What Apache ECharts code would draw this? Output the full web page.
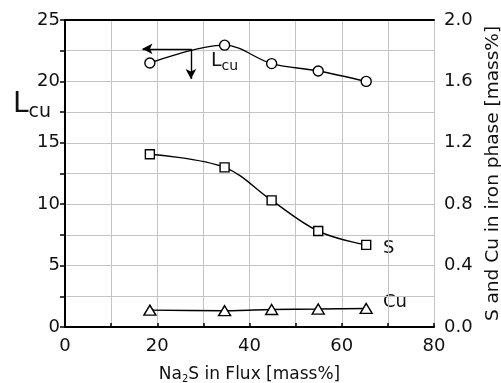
<!DOCTYPE html>
<html>
<head>
<meta charset="utf-8">
<script src="https://cdn.jsdelivr.net/npm/echarts@6/dist/echarts.min.js"></script>
<style>
  html, body { margin: 0; padding: 0; background: #fff; }
  #chart { width: 501px; height: 383px; }
</style>
</head>
<body>
<div id="chart"></div>
<script>
const na2s = [18.4, 34.6, 44.8, 54.9, 65.3];
const lcu = [21.5, 22.95, 21.45, 20.85, 20.0];
const sulfur = [1.125, 1.04, 0.825, 0.625, 0.535];
const copper = [0.11, 0.106, 0.114, 0.117, 0.121];

const font = "DejaVu Sans, sans-serif";
const pair = (xs, ys) => xs.map((x, i) => [x, ys[i]]);

const chart = echarts.init(document.getElementById("chart"));

const baseSeries = {
  type: "line",
  smooth: 0.35,
  symbolSize: 10,
  itemStyle: { color: "#fff", borderColor: "#000", borderWidth: 1.4 },
  lineStyle: { color: "#000", width: 1.4 },
  z: 5,
};

chart.setOption({
  animation: false,
  grid: { left: 65, right: 67, top: 20, bottom: 56, containLabel: false, outerBoundsMode: "none" },
  xAxis: [
    {
      type: "value",
      min: 0,
      max: 80,
      interval: 20,
      name: "{n|Na}{s|2}{n|S in Flux [mass%]}",
      nameLocation: "middle",
      nameGap: 39,
      nameTextStyle: {
        rich: {
          n: { fontFamily: font, fontSize: 17, color: "#111" },
          s: { fontFamily: font, fontSize: 10, color: "#111", verticalAlign: "bottom", padding: [8, 0, 0, 0] },
        },
      },
      axisLine: { onZero: false, lineStyle: { color: "#000", width: 2 } },
      axisTick: { inside: true, length: 4, lineStyle: { color: "#000", width: 1.5 } },
      minorTick: { show: true, splitNumber: 2, length: 4, lineStyle: { color: "#000", width: 1.5 } },
      axisLabel: { fontFamily: font, fontSize: 18, color: "#111", margin: 10 },
      splitLine: { show: true, lineStyle: { color: "#c4c4c4", width: 1 } },
      minorSplitLine: { show: true, lineStyle: { color: "#c4c4c4", width: 1 } },
    },
    {
      type: "value",
      position: "top",
      min: 0,
      max: 80,
      interval: 20,
      axisLine: { show: true, onZero: false, lineStyle: { color: "#000", width: 2 } },
      axisTick: { show: false },
      axisLabel: { show: false },
      splitLine: { show: false },
    },
  ],
  yAxis: [
    {
      type: "value",
      min: 0,
      max: 25,
      interval: 5,
      axisLine: { show: true, lineStyle: { color: "#000", width: 2 } },
      axisTick: { inside: false, length: 5, lineStyle: { color: "#000", width: 1.5 } },
      minorTick: { show: true, splitNumber: 2, length: 5, lineStyle: { color: "#000", width: 1.5 } },
      axisLabel: { fontFamily: font, fontSize: 18, color: "#111", margin: 5 },
      splitLine: { show: true, lineStyle: { color: "#c4c4c4", width: 1 } },
      minorSplitLine: { show: true, lineStyle: { color: "#c4c4c4", width: 1 } },
    },
    {
      type: "value",
      min: 0,
      max: 2.0,
      interval: 0.4,
      position: "right",
      name: "S and Cu in iron phase [mass%]",
      nameLocation: "middle",
      nameRotate: 90,
      nameGap: 47,
      nameTextStyle: { fontFamily: font, fontSize: 18.5, color: "#111" },
      axisLine: { show: true, lineStyle: { color: "#000", width: 2 } },
      axisTick: { inside: true, length: 4, lineStyle: { color: "#000", width: 1.5 } },
      minorTick: { show: true, splitNumber: 2, length: 4, lineStyle: { color: "#000", width: 1.5 } },
      axisLabel: { fontFamily: font, fontSize: 18, color: "#111", margin: 10, formatter: (v) => v.toFixed(1) },
      splitLine: { show: false },
    },
  ],
  series: [
    Object.assign({}, baseSeries, {
      name: "Lcu",
      yAxisIndex: 0,
      symbol: "circle",
      data: pair(na2s, lcu),
      markLine: {
        silent: true,
        symbolSize: [8, 10],
        lineStyle: { color: "#000", width: 1.4, type: "solid" },
        label: { show: false },
        data: [
          [{ coord: [27.3, 22.65], symbol: "none" }, { coord: [16.8, 22.65], symbol: "arrow" }],
          [{ coord: [27.3, 22.65], symbol: "none" }, { coord: [27.3, 20.2], symbol: "arrow" }],
        ],
      },
    }),
    Object.assign({}, baseSeries, {
      name: "S",
      yAxisIndex: 1,
      symbol: "rect",
      symbolSize: 9,
      data: pair(na2s, sulfur),
    }),
    Object.assign({}, baseSeries, {
      name: "Cu",
      yAxisIndex: 1,
      symbol: "triangle",
      symbolSize: [12, 10],
      smooth: 0.2,
      data: pair(na2s, copper),
    }),
  ],
  graphic: [
    {
      type: "text",
      left: 13,
      top: 91,
      style: {
        text: "{L|L}{c|cu}",
        rich: {
          L: { fontFamily: font, fontSize: 28, fill: "#111" },
          c: { fontFamily: font, fontSize: 19, fill: "#111", verticalAlign: "bottom", padding: [14, 0, 0, 0] },
        },
      },
    },
    {
      type: "text",
      left: 211,
      top: 52,
      style: {
        text: "{L|L}{c|cu}",
        rich: {
          L: { fontFamily: font, fontSize: 19, fill: "#111" },
          c: { fontFamily: font, fontSize: 14, fill: "#111", verticalAlign: "bottom", padding: [9, 0, 0, 0] },
        },
      },
    },
    { type: "text", left: 383, top: 239, style: { text: "S", fontFamily: font, fontSize: 18, fill: "#111" } },
    { type: "text", left: 383, top: 293, style: { text: "Cu", fontFamily: font, fontSize: 18, fill: "#111" } },
  ],
});
</script>
</body>
</html>
